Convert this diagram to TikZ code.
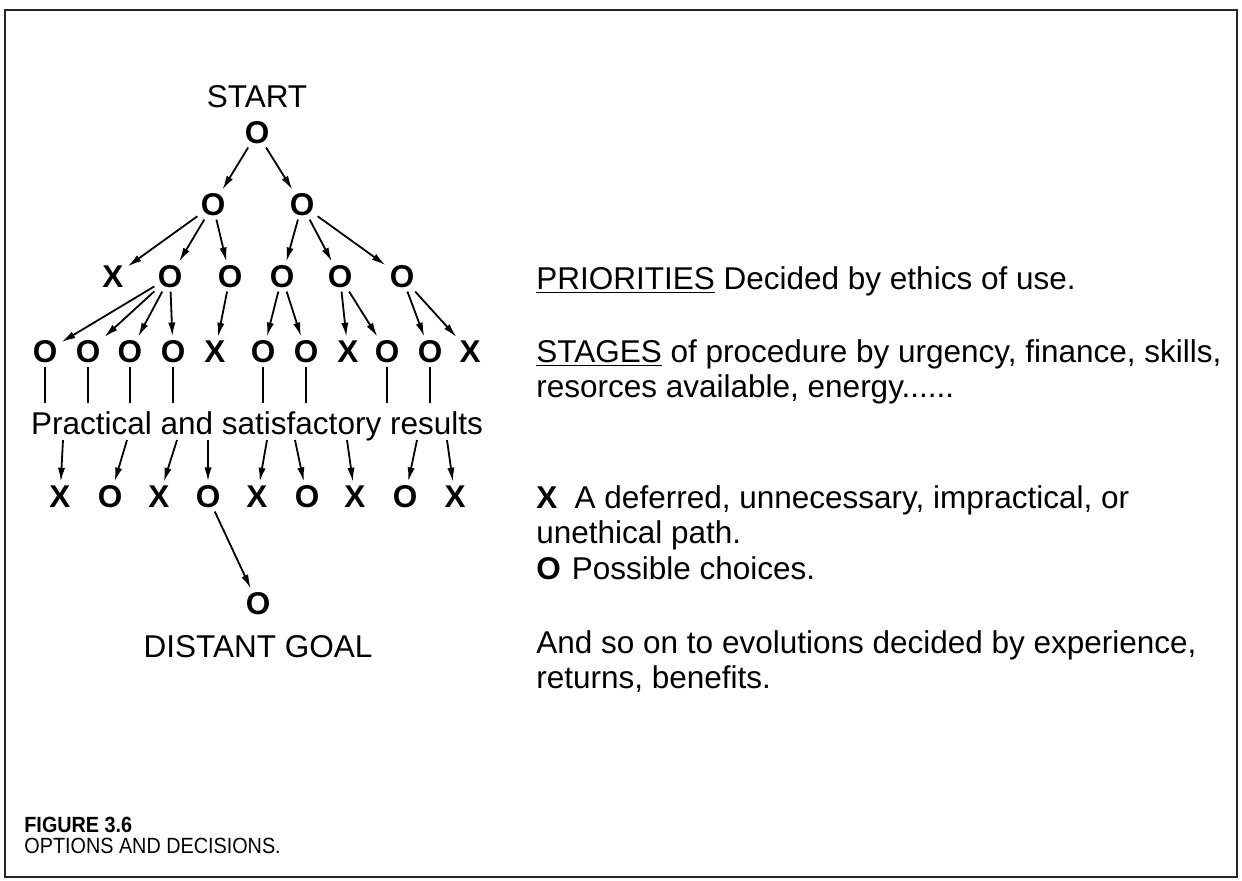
\documentclass[tikz,border=0pt]{standalone}
\usepackage{fontspec}
\setmainfont{Liberation Sans}
\usepackage{graphicx}
\usetikzlibrary{arrows.meta}
\newcommand{\capstretch}[1]{\scalebox{0.9}[1]{#1}}
\begin{document}
\begin{tikzpicture}[x=0.5pt,y=-0.5pt,
  font=\fontsize{15.75pt}{17.75pt}\selectfont,
  sym/.style={font=\fontsize{15.75pt}{17.75pt}\selectfont\bfseries, inner sep=1.5pt},
  arr/.style={line width=0.9pt, -{Latex[length=7pt,width=3.6pt]}, shorten >=0.5pt},
  ln/.style={line width=0.9pt},
  lbl/.style={inner sep=0pt, anchor=base west},
  captext/.style={inner sep=0pt, anchor=base west, font=\fontsize{11pt}{13pt}\selectfont},
  frame/.style={line width=1.2pt, draw=black!85}
]
\useasboundingbox (0,0) rectangle (1242,880);
\draw[frame] (5,10) rectangle (1237,877);

% ---- tree ----
\node[anchor=base] (start) at (257,107) {START};
\node[sym] (r) at (257,133) {O};
\node[sym] (a1) at (213,205) {O};
\node[sym] (a2) at (302,205) {O};

\node[sym] (b1) at (113,277) {X};
\node[sym] (b2) at (170,277) {O};
\node[sym] (b3) at (230,277) {O};
\node[sym] (b4) at (282,277) {O};
\node[sym] (b5) at (340,277) {O};
\node[sym] (b6) at (402,277) {O};

\node[sym] (c1) at (45,352) {O};
\node[sym] (c2) at (88,352) {O};
\node[sym] (c3) at (130,352) {O};
\node[sym] (c4) at (173,352) {O};
\node[sym] (c5) at (215,352) {X};
\node[sym] (c6) at (263,352) {O};
\node[sym] (c7) at (306,352) {O};
\node[sym] (c8) at (348,352) {X};
\node[sym] (c9) at (387,352) {O};
\node[sym] (c10) at (430,352) {O};
\node[sym] (c11) at (470,352) {X};

\node[anchor=base, inner sep=4pt] (prac) at (257,434) {Practical and satisfactory results};

\node[sym] (d1) at (60,497) {X};
\node[sym] (d2) at (110,497) {O};
\node[sym] (d3) at (159,497) {X};
\node[sym] (d4) at (208,497) {O};
\node[sym] (d5) at (257,497) {X};
\node[sym] (d6) at (307,497) {O};
\node[sym] (d7) at (355,497) {X};
\node[sym] (d8) at (405,497) {O};
\node[sym] (d9) at (455,497) {X};

\node[sym] (g) at (258,604) {O};
\node[anchor=base] (dg) at (258,657) {DISTANT GOAL};

\draw[arr] (r) -- (a1);
\draw[arr] (r) -- (a2);
\draw[arr] (a1) -- (b1);
\draw[arr] (a1) -- (b2);
\draw[arr] (a1) -- (b3);
\draw[arr] (a2) -- (b4);
\draw[arr] (a2) -- (b5);
\draw[arr] (a2) -- (b6);
\draw[arr] (b2) -- (c1);
\draw[arr] (b2) -- (c2);
\draw[arr] (b2) -- (c3);
\draw[arr] (b2) -- (c4);
\draw[arr] (b3) -- (c5);
\draw[arr] (b4) -- (c6);
\draw[arr] (b4) -- (c7);
\draw[arr] (b5) -- (c8);
\draw[arr] (b5) -- (c9);
\draw[arr] (b6) -- (c10);
\draw[arr] (b6) -- (c11);

\foreach \n in {c1,c2,c3,c4,c6,c7,c9,c10}
  \draw[ln] (\n.south) -- (\n.south |- prac.north);

\coordinate (t1) at (63,440);
\coordinate (t2) at (127,440);
\coordinate (t3) at (177,440);
\coordinate (t4) at (208,440);
\coordinate (t5) at (267,440);
\coordinate (t6) at (295,440);
\coordinate (t7) at (347,440);
\coordinate (t8) at (417,440);
\coordinate (t9) at (447,440);
\draw[arr] (t1) -- (d1);
\draw[arr] (t2) -- (d2);
\draw[arr] (t3) -- (d3);
\draw[arr] (t4) -- (d4);
\draw[arr] (t5) -- (d5);
\draw[arr] (t6) -- (d6);
\draw[arr] (t7) -- (d7);
\draw[arr] (t8) -- (d8);
\draw[arr] (t9) -- (d9);

\draw[arr] (d4) -- (g);

% ---- right-hand text ----
\node[lbl] (pri) at (536,289) {\underline{PRIORITIES} Decided by ethics of use.};
\node[lbl] (stg) at (536,362) {\begin{tabular}[t]{@{}l@{}}\underline{STAGES} of procedure by urgency, finance, skills,\\resorces available, energy......\end{tabular}};
\node[lbl] (key) at (536,508) {\begin{tabular}[t]{@{}l@{}}\textbf{X}\hspace{0.55em}A deferred, unnecessary, impractical, or\\unethical path.\\\textbf{O}\hspace{0.35em}Possible choices.\end{tabular}};
\node[lbl] (evo) at (536,653) {\begin{tabular}[t]{@{}l@{}}And so on to evolutions decided by experience,\\returns, benefits.\end{tabular}};

% ---- caption ----
\node[captext] (fig) at (24,832) {\capstretch{\bfseries FIGURE 3.6}};
\node[captext] (opt) at (24,853) {\capstretch{OPTIONS AND DECISIONS.}};
\end{tikzpicture}
\end{document}
